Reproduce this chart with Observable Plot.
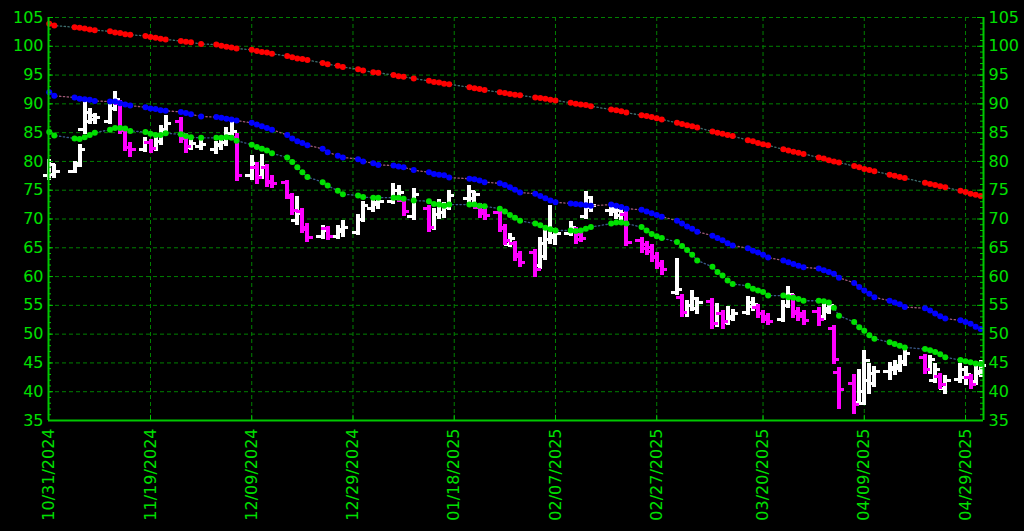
<!DOCTYPE html>
<html>
<head>
<meta charset="utf-8">
<script src="https://cdn.jsdelivr.net/npm/d3@7"></script>
<script src="https://cdn.jsdelivr.net/npm/@observablehq/plot@0.6"></script>
<style>
  html, body { margin: 0; padding: 0; background: #000; }
  #chart { width: 1024px; height: 531px; overflow: hidden; }
</style>
</head>
<body>
<div id="chart"></div>
<script>
// ---- calendar (trading sessions shown) ----
const firstSession = "2024-10-30";
const lastSession = "2025-05-02";
const closedDays = ["2024-11-01","2024-11-28","2024-12-25","2025-01-01","2025-01-09","2025-01-20","2025-02-17","2025-04-18"];

// ---- x tick labels ----
const tickLabels = ["10/31/2024","11/19/2024","12/09/2024","12/29/2024","01/18/2025","02/07/2025","02/27/2025","03/20/2025","04/09/2025","04/29/2025"];
const yTicks = [35,40,45,50,55,60,65,70,75,80,85,90,95,100,105];

// ---- price bars ----
const openPx = [77.5,77.8,78.3,79.6,85.5,87.0,87.2,87.0,89.2,90.0,85.3,82.5,82.1,83.3,82.3,83.4,85.6,86.9,84.0,82.5,82.6,82.0,82.8,83.3,84.8,84.2,77.5,79.0,77.4,79.0,76.5,76.3,73.8,69.8,71.3,68.5,67.0,68.3,67.0,67.8,67.7,70.0,71.8,72.5,73.0,73.5,73.2,70.5,71.8,68.5,70.8,71.2,72.0,73.5,73.6,72.0,71.5,71.1,68.5,65.5,65.7,63.8,64.2,62.0,63.5,66.5,66.8,67.5,68.0,67.3,70.5,72.0,71.5,71.3,70.6,70.8,66.3,65.5,65.0,63.5,62.2,57.3,56.4,53.8,55.0,54.5,55.6,51.8,53.5,52.0,52.8,53.8,54.8,54.6,53.6,53.0,52.5,55.0,56.5,54.0,53.5,54.0,53.0,54.0,51.0,43.4,41.5,38.2,38.0,42.0,41.5,43.5,43.8,44.0,45.0,46.0,43.8,42.0,42.6,40.5,42.2,42.5,42.5,41.8,43.2];
const highPx = [80.0,79.2,79.6,82.6,90.2,88.8,88.0,89.6,91.8,90.3,85.5,83.0,83.8,83.5,83.8,85.9,87.6,87.2,84.5,84.0,83.4,83.2,83.6,85.6,86.9,84.5,80.6,79.4,80.8,79.2,77.2,76.4,74.0,73.6,71.5,68.8,68.5,68.4,68.6,69.4,70.5,72.7,73.2,73.4,75.8,75.4,73.4,75.0,72.0,71.5,73.0,72.5,74.6,75.5,74.5,72.3,71.8,71.2,68.7,67.1,65.8,64.0,64.4,66.5,67.8,72.0,68.0,69.2,68.2,67.6,74.4,73.5,72.0,71.8,71.5,71.0,66.4,65.8,65.2,63.8,62.5,62.8,56.5,55.5,57.2,56.0,55.8,55.0,53.7,54.5,54.0,56.2,56.0,54.8,53.8,53.2,55.5,57.9,56.6,54.3,53.8,54.2,55.0,55.3,51.2,43.8,42.6,43.5,46.8,44.5,44.0,44.8,45.0,46.0,47.2,46.2,46.0,44.5,42.8,42.5,44.5,44.0,42.7,44.2,45.0];
const lowPx = [77.0,77.3,78.2,79.3,85.0,86.7,86.8,86.8,89.0,85.0,82.0,81.0,81.9,81.7,82.0,83.2,85.3,83.4,81.7,82.2,82.3,81.6,82.3,83.0,84.3,76.8,77.0,76.4,77.2,75.8,75.6,73.7,71.0,69.3,67.8,66.3,66.8,66.6,66.8,67.2,67.5,69.8,71.5,72.0,72.8,73.2,70.8,70.1,68.0,68.3,70.2,70.5,71.8,73.0,72.9,70.5,70.1,68.0,65.7,65.4,63.0,61.9,60.2,61.5,63.1,66.0,65.8,67.3,65.9,66.2,70.3,71.5,70.8,70.3,70.1,65.5,64.3,64.0,62.8,61.5,60.5,57.0,53.2,53.3,54.2,53.8,51.2,51.5,51.2,51.8,52.5,53.6,54.2,53.0,52.2,51.8,52.3,54.8,53.0,52.6,51.8,51.7,52.7,53.8,45.1,37.2,36.4,38.0,37.9,39.8,41.0,42.3,43.2,43.6,44.8,43.3,43.3,41.8,40.8,39.9,41.8,41.4,40.7,41.5,42.8];
const closePx = [79.5,78.3,79.3,82.0,88.5,88.0,87.6,89.2,90.8,85.6,82.4,82.1,83.3,82.2,83.4,85.6,86.6,84.0,82.6,83.2,82.9,82.9,83.3,84.8,85.2,77.6,79.6,77.2,79.2,76.4,76.2,74.0,71.5,71.0,68.2,66.8,68.0,67.0,68.2,68.6,70.0,72.3,72.8,73.0,75.0,74.6,71.3,74.2,68.6,70.8,72.6,72.0,74.0,74.8,74.2,71.0,70.6,68.4,66.2,66.6,63.5,62.4,61.2,65.8,66.5,67.2,67.5,68.5,66.5,66.6,73.8,72.3,71.8,71.5,71.0,65.9,64.8,64.4,63.3,62.0,61.2,57.8,53.8,55.0,56.2,55.5,51.8,53.5,52.2,53.0,53.6,55.5,55.2,53.5,52.6,52.2,55.0,56.8,53.6,53.0,52.3,52.5,54.5,54.9,45.6,40.3,37.8,40.0,45.5,43.2,43.5,44.2,44.6,45.3,46.6,43.8,45.6,43.8,41.2,42.0,43.8,43.0,41.2,43.5,44.5];

// ---- moving averages ----
const maRed = [103.9,103.6,103.3,103.2,103.1,102.9,102.8,102.6,102.4,102.3,102.1,102.0,101.8,101.6,101.5,101.3,101.2,100.9,100.8,100.7,100.4,100.3,100.1,99.9,99.8,99.6,99.4,99.2,99.0,98.9,98.7,98.3,98.1,97.9,97.8,97.6,97.1,96.9,96.6,96.4,96.0,95.8,95.5,95.4,95.0,94.8,94.7,94.4,94.0,93.8,93.7,93.5,93.4,92.9,92.7,92.6,92.4,92.0,91.9,91.7,91.6,91.5,91.1,91.0,90.9,90.7,90.6,90.2,90.0,89.9,89.8,89.6,89.0,88.9,88.7,88.5,88.0,87.9,87.7,87.5,87.3,86.7,86.5,86.3,86.1,85.9,85.2,85.0,84.8,84.6,84.4,83.7,83.5,83.2,83.0,82.8,82.1,81.9,81.7,81.5,81.3,80.7,80.5,80.2,80.0,79.8,79.2,79.0,78.7,78.5,78.3,77.7,77.5,77.3,77.1,76.3,76.1,75.9,75.7,75.5,74.9,74.7,74.4,74.2,74.0];
const maBlue = [92.0,91.4,91.1,90.9,90.8,90.7,90.5,90.4,90.4,90.1,89.9,89.7,89.4,89.2,89.1,88.9,88.8,88.6,88.4,88.2,87.8,87.7,87.6,87.4,87.3,87.1,86.7,86.4,86.1,85.8,85.5,84.6,84.0,83.5,83.2,82.8,82.2,81.6,81.0,80.7,80.4,80.0,79.7,79.4,79.3,79.1,79.0,78.5,78.1,77.8,77.7,77.6,77.2,77.0,76.9,76.7,76.4,76.2,75.9,75.5,75.1,74.6,74.4,74.0,73.6,73.2,72.9,72.7,72.6,72.5,72.4,72.3,72.5,72.3,72.1,71.8,71.6,71.3,71.0,70.7,70.4,69.7,69.2,68.7,68.3,67.8,67.1,66.7,66.3,65.8,65.4,64.9,64.5,64.2,63.8,63.3,62.8,62.5,62.2,61.9,61.6,61.4,61.1,60.8,60.5,59.8,58.9,58.2,57.6,57.0,56.4,55.8,55.5,55.2,54.7,54.5,54.1,53.6,53.1,52.7,52.4,52.1,51.8,51.3,50.9];
const maGreen = [85.1,84.5,84.0,83.9,84.2,84.6,85.0,85.5,85.8,85.8,85.7,85.3,85.1,84.8,84.6,84.6,84.9,84.7,84.4,84.2,84.1,84.1,84.1,84.2,84.1,83.6,82.9,82.5,82.2,81.9,81.4,80.7,79.9,79.0,78.1,77.3,76.4,75.8,74.9,74.3,74.1,73.8,73.7,73.7,73.7,73.7,73.5,73.2,73.1,72.6,72.5,72.3,72.5,72.5,72.5,72.3,72.2,71.8,71.3,70.7,70.2,69.7,69.2,68.9,68.5,68.2,68.0,68.0,67.9,68.0,68.3,68.6,69.2,69.4,69.4,69.2,68.6,68.0,67.4,67.0,66.7,66.0,65.3,64.6,63.8,62.8,61.7,60.8,60.2,59.3,58.7,58.4,57.9,57.6,57.3,56.7,56.7,56.4,56.3,56.1,55.8,55.8,55.7,55.5,54.6,53.2,52.1,51.2,50.6,49.8,49.2,48.6,48.3,48.0,47.7,47.4,47.2,46.9,46.5,46.0,45.5,45.3,45.1,44.9,44.8];

// ---- build ----
const day = 864e5;
const fmt = d3.utcFormat("%Y-%m-%d");
const parseIso = d3.utcParse("%Y-%m-%d");
const parseLabel = d3.utcParse("%m/%d/%Y");
const closed = new Set(closedDays);
const sessions = d3.utcDay.range(parseIso(firstSession), d3.utcDay.offset(parseIso(lastSession), 1))
  .filter(d => d.getUTCDay() % 6 !== 0 && !closed.has(fmt(d)));
const n = Math.min(sessions.length, openPx.length);
const rows = d3.range(n).map(i => ({
  date: sessions[i], open: openPx[i], high: highPx[i], low: lowPx[i], close: closePx[i],
  red: maRed[i], blue: maBlue[i], green: maGreen[i]
}));

const anchorDay = Date.UTC(2024, 9, 31);
const xDomain = [new Date(anchorDay - 1.15 * day), new Date(anchorDay + 183.55 * day)];
const xTicks = tickLabels.map((s, i) => i === 0 ? xDomain[0] : parseLabel(s));
const labelOf = new Map(xTicks.map((d, i) => [+d, tickLabels[i]]));

const UP = "#ffffff", DOWN = "#ff00ff";
const GRID = "#008000", AXIS = "#00c800", TEXT = "#00e000";
const ups = rows.filter(d => d.close >= d.open);
const downs = rows.filter(d => d.close < d.open);
const tl = 1.15 * day;

function barMarks(data, color) {
  return [
    Plot.ruleX(data, {x: "date", y1: "low", y2: "high", stroke: color, strokeWidth: 4, shapeRendering: "crispEdges", strokeLinecap: "square"}),
    Plot.ruleY(data, {y: "open", x1: d => new Date(+d.date - tl), x2: "date", stroke: color, strokeWidth: 3, shapeRendering: "crispEdges"}),
    Plot.ruleY(data, {y: "close", x1: "date", x2: d => new Date(+d.date + tl), stroke: color, strokeWidth: 3, shapeRendering: "crispEdges"})
  ];
}
function maMarks(key, dotColor, lineColor) {
  return [
    Plot.line(rows, {x: "date", y: key, stroke: lineColor, strokeWidth: 1.3, strokeDasharray: "1.3,2.5"}),
    Plot.dot(rows, {x: "date", y: key, r: 3, fill: dotColor, stroke: "none"})
  ];
}

const innerW = 1024 - 48 - 41;
const chart = Plot.plot({
  width: 1024,
  height: 531,
  marginLeft: 48,
  marginRight: 41,
  marginTop: 17,
  marginBottom: 111,
  style: {background: "#000", color: TEXT, fontFamily: "DejaVu Sans", fontSize: "16px"},
  x: {type: "utc", domain: xDomain},
  y: {domain: [35, 105]},
  marks: [
    Plot.ruleY(yTicks.filter(v => v > 35), {y: d => d, stroke: GRID, strokeWidth: 1, strokeDasharray: "4,3"}),
    Plot.ruleX(xTicks.slice(1), {x: d => d, stroke: GRID, strokeWidth: 1, strokeDasharray: "4,3"}),
    ...barMarks(ups, UP),
    ...barMarks(downs, DOWN),
    ...maMarks("red", "#ff0000", "#3f7070"),
    ...maMarks("blue", "#0000ff", "#a05a78"),
    ...maMarks("green", "#00e000", "#3a5a8c"),
    // axis lines
    Plot.ruleX([xDomain[0]], {x: d => d, stroke: AXIS, strokeWidth: 2}),
    Plot.ruleX([xDomain[1]], {x: d => d, stroke: AXIS, strokeWidth: 2}),
    Plot.ruleY([35], {y: d => d, stroke: AXIS, strokeWidth: 2}),
    // minor / major ticks
    Plot.tickY(d3.range(35, 106), {y: d => d, stroke: AXIS, strokeWidth: 1, insetRight: innerW - 3}),
    Plot.tickY(yTicks, {y: d => d, stroke: AXIS, strokeWidth: 1, insetRight: innerW - 5}),
    Plot.tickY(d3.range(35, 106), {y: d => d, stroke: AXIS, strokeWidth: 1, insetLeft: innerW - 3}),
    Plot.tickY(yTicks, {y: d => d, stroke: AXIS, strokeWidth: 1, insetLeft: innerW - 6}),
    Plot.ruleX(xTicks.slice(1), {x: d => d, y1: 35, y2: 35.9, stroke: AXIS, strokeWidth: 1}),
    // labels
    Plot.axisY({anchor: "left", ticks: yTicks, tickSize: 0, tickPadding: 5, label: null, color: TEXT, fontSize: 16}),
    Plot.axisY({anchor: "right", ticks: yTicks, tickSize: 0, tickPadding: 5, label: null, color: TEXT, fontSize: 16}),
    Plot.axisX({anchor: "bottom", ticks: xTicks, tickFormat: d => labelOf.get(+d), tickRotate: -90, tickSize: 0, tickPadding: 8, label: null, color: TEXT, fontSize: 16})
  ]
});
document.getElementById("chart").appendChild(chart);
</script>
</body>
</html>
